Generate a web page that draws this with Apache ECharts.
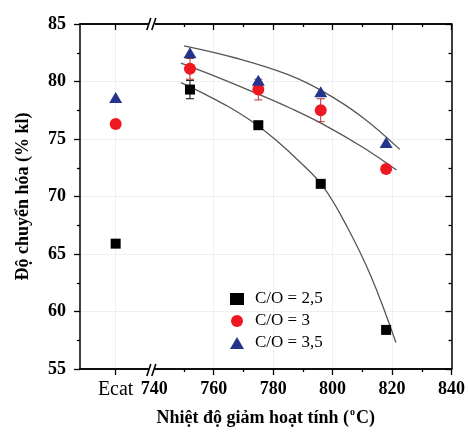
<!DOCTYPE html>
<html>
<head>
<meta charset="utf-8">
<script src="https://cdn.jsdelivr.net/npm/echarts@6/dist/echarts.min.js"></script>
<style>
html,body{margin:0;padding:0;background:#fff;}
#c{width:468px;height:432px;}
</style>
</head>
<body>
<div id="c"></div>
<script>
// ---- data ----
const ecatLabel = 'Ecat';
const ecatX = 727;                 // where the Ecat category sits on the temperature axis
const temps = [752, 775, 796, 818];
const seriesNames = ['C/O = 2,5', 'C/O = 3', 'C/O = 3,5'];
// first value = Ecat, then one per temperature
const co25 = [65.9, 79.3, 76.2, 71.1, 58.4];
const co3  = [76.3, 81.1, 79.3, 77.5, 72.4];
const co35 = [78.6, 82.5, 80.1, 79.1, 74.7];
const err25 = [0, 0.8, 0, 0, 0];
const err3  = [0, 0.9, 0.9, 1.0, 0];
// fitted curves
const fit25X = [749, 757, 765, 773, 781, 789, 797, 805, 813, 821.3];
const fit25Y = [79.9, 78.9, 77.8, 76.5, 74.9, 73.0, 70.8, 67.3, 63.0, 57.3];
const fit3X  = [749, 762, 775, 786, 797, 810, 821.5];
const fit3Y  = [81.6, 80.3, 78.9, 77.65, 76.25, 74.3, 72.3];
const fit35X = [750, 768, 785, 797, 810, 822.6];
const fit35Y = [83.1, 82.0, 80.6, 79.1, 76.9, 74.1];
// ticks
const yTicks = {min: 55, max: 85, step: 5};
const xMin = 715, xMax = 840;
const xLabelValues = [ecatX, 740, 760, 780, 800, 820, 840];
const xMajorTicks = [ecatX, 760, 780, 800, 820, 840];
const xMinorTicks = [750, 770, 790, 810, 830];
const breakValue = 739.5;

const xs = [ecatX].concat(temps);
const pairs = (vals) => xs.map((x, i) => [x, vals[i]]);
const fitPairs = (X, Y) => X.map((x, i) => [x, Y[i]]);

const serif = "'Liberation Serif','Times New Roman',serif";
const GRID = {left: 80, right: 14, top: 24, bottom: 62};

const chart = echarts.init(document.getElementById('c'));

function xAxisBase(pos, ticks, len, inside) {
  return {
    type: 'value', min: xMin, max: xMax, position: pos,
    axisLine: {show: true, onZero: false, lineStyle: {color: '#000', width: 1.5}},
    axisTick: {show: true, customValues: ticks, length: len, inside: inside, lineStyle: {color: '#000', width: 1.3}},
    axisLabel: {show: false},
    splitLine: {show: false}
  };
}

const xBottom = xAxisBase('bottom', xMajorTicks, 6, false);
xBottom.axisLabel = {
  show: true, customValues: xLabelValues, margin: 11,
  fontFamily: serif, fontWeight: 'bold', fontSize: 18, color: '#000',
  formatter: v => v === ecatX ? '{e|' + ecatLabel + '}' : String(v),
  rich: {e: {fontFamily: serif, fontWeight: 'normal', fontSize: 20, color: '#000'}}
};
xBottom.name = '{a|Nhiệt độ giảm hoạt tính (}{s|o}{a|C)}';
xBottom.nameLocation = 'middle';
xBottom.nameGap = 38;
xBottom.nameTextStyle = {
  rich: {
    a: {fontFamily: serif, fontWeight: 'bold', fontSize: 18, color: '#000'},
    s: {fontFamily: serif, fontWeight: 'bold', fontSize: 10, color: '#000', verticalAlign: 'top', padding: [0, 1, 12, 1]}
  }
};
xBottom.splitLine = {show: true, lineStyle: {color: '#efefef', width: 1}};

const lineStyleFit = {color: '#555', width: 1.3};

const option = {
  animation: false,
  backgroundColor: '#fff',
  grid: GRID,
  legend: {
    data: seriesNames,
    orient: 'vertical', left: 225, top: 285,
    itemWidth: 14, itemHeight: 12, itemGap: 4,
    textStyle: {fontFamily: serif, fontSize: 17, color: '#000', lineHeight: 18, padding: [0, 0, 0, 6]}
  },
  xAxis: [
    xBottom,
    xAxisBase('bottom', xMinorTicks, 3, false),
    xAxisBase('top', xMajorTicks, 6, true),
    xAxisBase('top', xMinorTicks, 3, true)
  ],
  yAxis: [
    {
      type: 'value', min: yTicks.min, max: yTicks.max, interval: yTicks.step, position: 'left',
      axisLine: {show: true, lineStyle: {color: '#000', width: 1.5}},
      axisTick: {show: true, length: 6, lineStyle: {color: '#000', width: 1.3}},
      minorTick: {show: true, splitNumber: 2, length: 3, lineStyle: {color: '#000', width: 1.3}},
      axisLabel: {margin: 14, fontFamily: serif, fontWeight: 'bold', fontSize: 18, color: '#000'},
      splitLine: {show: true, lineStyle: {color: '#efefef', width: 1}},
      name: 'Độ chuyển hóa (% kl)', nameLocation: 'middle', nameGap: 48,
      nameTextStyle: {fontFamily: serif, fontWeight: 'bold', fontSize: 18, color: '#000'}
    },
    {
      type: 'value', min: yTicks.min, max: yTicks.max, interval: yTicks.step, position: 'right',
      axisLine: {show: true, lineStyle: {color: '#000', width: 1.5}},
      axisTick: {show: true, inside: true, length: 6, lineStyle: {color: '#000', width: 1.3}},
      minorTick: {show: true, splitNumber: 2, length: 3, lineStyle: {color: '#000', width: 1.3}},
      axisLabel: {show: false},
      splitLine: {show: false}
    }
  ],
  series: [
    {type: 'line', name: 'fit25', data: fitPairs(fit25X, fit25Y), smooth: 0.4, showSymbol: false, silent: true,
     lineStyle: lineStyleFit, z: 1},
    {type: 'line', name: 'fit3', data: fitPairs(fit3X, fit3Y), smooth: 0.4, showSymbol: false, silent: true,
     lineStyle: lineStyleFit, z: 1},
    {type: 'line', name: 'fit35', data: fitPairs(fit35X, fit35Y), smooth: 0.4, showSymbol: false, silent: true,
     lineStyle: lineStyleFit, z: 1},
    {
      type: 'custom', name: 'err', z: 2, silent: true,
      data: xs.map((x, i) => [x, co25[i], err25[i], co3[i], err3[i]]),
      renderItem: function (params, api) {
        const children = [];
        [[1, 2, '#000'], [3, 4, '#b03030']].forEach(([vi, ei, col]) => {
          const e = api.value(ei);
          if (!e) return;
          const x = api.value(0), v = api.value(vi);
          const p1 = api.coord([x, v + e]);
          const p2 = api.coord([x, v - e]);
          children.push({type: 'line', shape: {x1: p1[0], y1: p1[1], x2: p2[0], y2: p2[1]}, style: {stroke: col, lineWidth: 1}});
          children.push({type: 'line', shape: {x1: p1[0] - 4, y1: p1[1], x2: p1[0] + 4, y2: p1[1]}, style: {stroke: col, lineWidth: 1}});
          children.push({type: 'line', shape: {x1: p2[0] - 4, y1: p2[1], x2: p2[0] + 4, y2: p2[1]}, style: {stroke: col, lineWidth: 1}});
        });
        return {type: 'group', children: children};
      }
    },
    {type: 'scatter', name: seriesNames[0], data: pairs(co25), symbol: 'rect', symbolSize: 10,
     itemStyle: {color: '#000', opacity: 1}, z: 3},
    {type: 'scatter', name: seriesNames[1], data: pairs(co3), symbol: 'circle', symbolSize: 12,
     itemStyle: {color: '#f01820', opacity: 1}, z: 4},
    {type: 'scatter', name: seriesNames[2], data: pairs(co35), symbol: 'triangle', symbolSize: [13, 11],
     itemStyle: {color: '#24348c', opacity: 1}, z: 5}
  ]
};
chart.setOption(option);

// axis break marks "//" on top and bottom axes
const bx = chart.convertToPixel({xAxisIndex: 0}, breakValue);
const yTop = GRID.top, yBot = 432 - GRID.bottom;
const gfx = [];
[yTop, yBot].forEach(y => {
  gfx.push({type: 'rect', shape: {x: bx - 4, y: y - 3, width: 6, height: 6}, style: {fill: '#fff'}, z: 100});
  gfx.push({type: 'line', shape: {x1: bx - 6, y1: y + 6, x2: bx - 2, y2: y - 6}, style: {stroke: '#000', lineWidth: 1.6}, z: 101});
  gfx.push({type: 'line', shape: {x1: bx - 1, y1: y + 6, x2: bx + 3, y2: y - 6}, style: {stroke: '#000', lineWidth: 1.6}, z: 101});
});
chart.setOption({graphic: gfx});
</script>
</body>
</html>
